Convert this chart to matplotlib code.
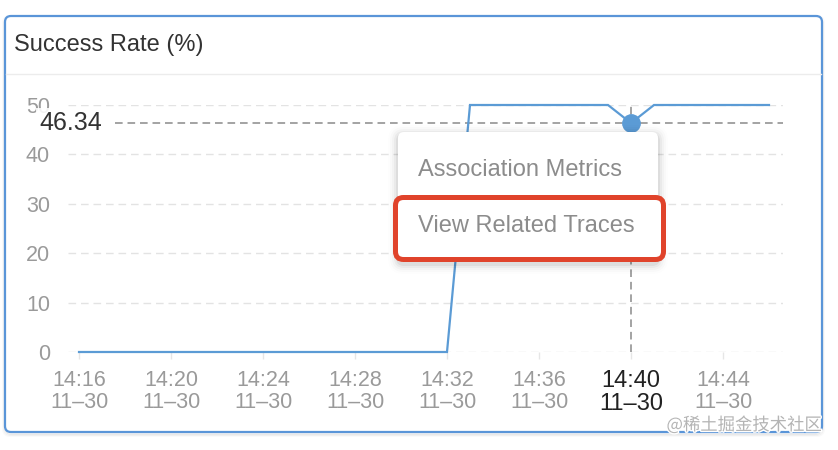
import matplotlib
matplotlib.use('Agg')
import matplotlib.pyplot as plt
from matplotlib.patches import FancyBboxPatch
from matplotlib.transforms import blended_transform_factory
import matplotlib.patheffects as pe

# ---------------- data ----------------
times = ['14:16', '14:17', '14:18', '14:19', '14:20', '14:21', '14:22', '14:23',
         '14:24', '14:25', '14:26', '14:27', '14:28', '14:29', '14:30', '14:31',
         '14:32', '14:33', '14:34', '14:35', '14:36', '14:37', '14:38', '14:39',
         '14:40', '14:41', '14:42', '14:43', '14:44', '14:45', '14:46']
date_label = '11–30'
success_rate = [0, 0, 0, 0, 0, 0, 0, 0, 0, 0, 0, 0, 0, 0, 0, 0,
                0, 50, 50, 50, 50, 50, 50, 50,
                46.34, 50, 50, 50, 50, 50, 50]
tick_times = ['14:16', '14:20', '14:24', '14:28', '14:32', '14:36', '14:40', '14:44']
y_ticks = [0, 10, 20, 30, 40, 50]
hover_time = '14:40'
hover_value = 46.34
title = 'Success Rate (%)'
menu_items = ['Association Metrics', 'View Related Traces']
watermark = '@稀土掘金技术社区'

# ---------------- style ----------------
plt.rcParams['font.family'] = ['Liberation Sans', 'Noto Sans CJK SC', 'DejaVu Sans']
plt.rcParams['lines.scale_dashes'] = False
BLUE = '#5b9bd5'
W, H = 838, 450

fig = plt.figure(figsize=(W / 100, H / 100), dpi=100)
fig.patch.set_facecolor('white')

# background overlay (pixel coordinates)
bg = fig.add_axes([0, 0, 1, 1], zorder=-1)
bg.set_xlim(0, W); bg.set_ylim(H, 0); bg.axis('off')

# panel shadow
for i, a in enumerate([0.05, 0.035, 0.02]):
    bg.add_patch(FancyBboxPatch((5 - i, 16 - i + 2), 817 + 2 * i, 416 + 2 * i,
                                boxstyle='round,pad=0,rounding_size=7',
                                fc='none', ec='black', lw=1.5, alpha=a))
bg.add_patch(FancyBboxPatch((5, 16), 817, 416, boxstyle='round,pad=0,rounding_size=6',
                            fc='white', ec='#5a95d8', lw=1.6))
bg.plot([6, 821], [74, 74], color='#ececec', lw=1.0)
bg.text(14, 45, title, fontsize=17, color='#333333', va='center', ha='left')

# ---------------- main chart ----------------
L, R, T, B = 68, 783, 105, 352
ax = fig.add_axes([L / W, 1 - B / H, (R - L) / W, (B - T) / H], zorder=1)
ax.patch.set_alpha(0)
x = list(range(len(times)))
px_per_step = 23.0
ax.set_xlim((L - 79) / px_per_step, (R - 79) / px_per_step)
ax.set_ylim(0, 50)
for s in ax.spines.values():
    s.set_visible(False)

ax.set_yticks(y_ticks)
ax.set_yticklabels([str(v) for v in y_ticks])
ax.grid(axis='y', color='#e3e3e3', lw=1.0, linestyle=(0, (5.5, 3.5)))
ax.set_axisbelow(True)

xt = [times.index(t) for t in tick_times]
ax.set_xticks(xt)
labels = ax.set_xticklabels([f'{t}\n{date_label}' for t in tick_times], linespacing=1.05)
ax.tick_params(axis='x', length=5, color='#e6e6e6', width=1, pad=8,
               labelsize=15.5, labelcolor='#9a9a9a')
ax.tick_params(axis='y', length=0, pad=13, labelsize=15.5, labelcolor='#9a9a9a')
for lab, t in zip(labels, tick_times):
    if t == hover_time:
        lab.set_color('#222222')
        lab.set_fontsize(17)

ax.plot(x, success_rate, color=BLUE, lw=1.6, clip_on=False, zorder=3,
        solid_joinstyle='miter')

# crosshair
hi = times.index(hover_time)
ax.axvline(hi, color='#8a8a8a', lw=1.1, linestyle=(0, (5.5, 3.5)), zorder=2)
ax.axhline(hover_value, xmin=(115 - L) / (R - L), color='#8a8a8a', lw=1.1,
           linestyle=(0, (5.5, 3.5)), zorder=2)
tr = blended_transform_factory(ax.transAxes, ax.transData)
ax.text((102 - L) / (R - L), hover_value, f'{hover_value:.2f}', transform=tr,
        ha='right', va='center', fontsize=18, color='#333333', zorder=5,
        bbox=dict(boxstyle='square,pad=0.12', fc='white', ec='none', alpha=0.88))
ax.plot([hi], [hover_value], 'o', ms=12.5, color=BLUE, clip_on=False, zorder=4)

# ---------------- context menu overlay ----------------
top = fig.add_axes([0, 0, 1, 1], zorder=10)
top.patch.set_alpha(0)
top.set_xlim(0, W); top.set_ylim(H, 0); top.axis('off')

for i, a in enumerate([0.05, 0.035, 0.025, 0.015, 0.008]):
    d = 2 * (i + 1)
    top.add_patch(FancyBboxPatch((398 - d, 133 - d + 2), 260 + 2 * d, 129 + 2 * d,
                                 boxstyle=f'round,pad=0,rounding_size={6 + d}',
                                 fc='black', ec='none', alpha=a))
top.add_patch(FancyBboxPatch((398, 132), 260, 130, boxstyle='round,pad=0,rounding_size=6',
                             fc='white', ec='none'))
top.add_patch(FancyBboxPatch((395.5, 197.5), 268, 62, boxstyle='round,pad=0,rounding_size=8',
                             fc='white', ec='#e0432b', lw=3.6))
top.text(418, 170, menu_items[0], fontsize=17, color='#8c8c8c', va='center', ha='left')
top.text(418, 226, menu_items[1], fontsize=17, color='#8c8c8c', va='center', ha='left')

top.text(822, 425, watermark, fontsize=12.5, color='#b4b4b4', va='center', ha='right',
         family=['Noto Sans CJK SC', 'DejaVu Sans'],
         path_effects=[pe.withStroke(linewidth=2, foreground='white')])

fig.savefig('out.png', dpi=100)
